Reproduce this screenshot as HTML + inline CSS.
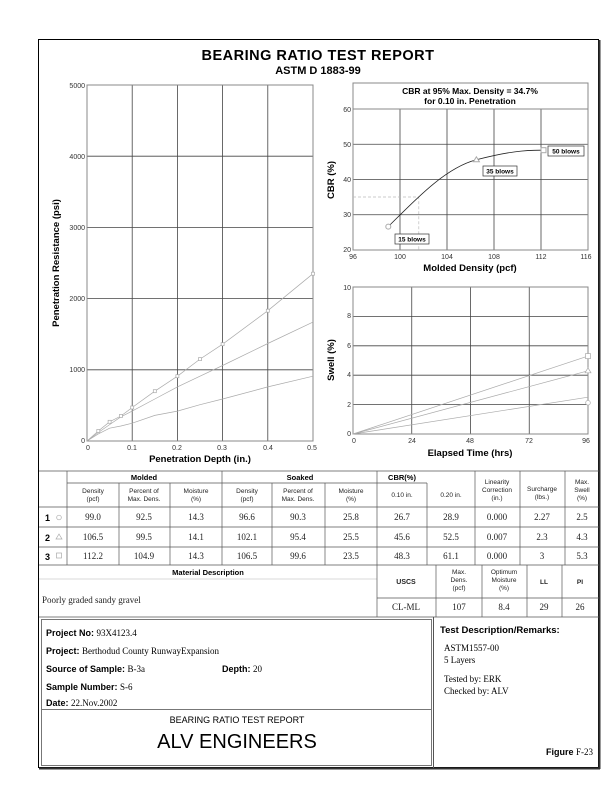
<!DOCTYPE html>
<html><head><meta charset="utf-8"><style>
body{margin:0;background:#fff;width:612px;height:792px;position:relative;overflow:hidden;font-family:"Liberation Sans",sans-serif;}
</style></head><body>
<svg width="612" height="792" style="position:absolute;left:0;top:0" font-family="Liberation Sans, sans-serif">
<rect x="38.5" y="39.5" width="560" height="728" fill="none" stroke="#000" stroke-width="1"/>
<line x1="599.5" y1="40" x2="599.5" y2="769" stroke="#333" stroke-width="2"/>
<line x1="39" y1="768.5" x2="600" y2="768.5" stroke="#333" stroke-width="2"/>
<text x="318" y="60" text-anchor="middle" font-size="14.5" font-weight="bold" letter-spacing="0.5">BEARING RATIO TEST REPORT</text>
<text x="318" y="74" text-anchor="middle" font-size="11" font-weight="bold">ASTM D 1883-99</text>

<g stroke="#444" stroke-width="0.8">
<line x1="132.2" y1="85" x2="132.2" y2="441"/><line x1="177.4" y1="85" x2="177.4" y2="441"/><line x1="222.6" y1="85" x2="222.6" y2="441"/><line x1="267.8" y1="85" x2="267.8" y2="441"/>
<line x1="87" y1="369.8" x2="313" y2="369.8"/><line x1="87" y1="298.6" x2="313" y2="298.6"/><line x1="87" y1="227.4" x2="313" y2="227.4"/><line x1="87" y1="156.2" x2="313" y2="156.2"/>
</g>
<rect x="87" y="85" width="226" height="356" fill="none" stroke="#888" stroke-width="1"/>
<g font-size="7" fill="#333">
<text x="85" y="443" text-anchor="end">0</text><text x="85" y="372" text-anchor="end">1000</text><text x="85" y="301" text-anchor="end">2000</text><text x="85" y="230" text-anchor="end">3000</text><text x="85" y="159" text-anchor="end">4000</text><text x="85" y="88" text-anchor="end">5000</text>
<text x="88" y="450" text-anchor="middle">0</text><text x="132" y="450" text-anchor="middle">0.1</text><text x="177" y="450" text-anchor="middle">0.2</text><text x="222" y="450" text-anchor="middle">0.3</text><text x="268" y="450" text-anchor="middle">0.4</text><text x="312" y="450" text-anchor="middle">0.5</text>
</g>
<text x="200" y="462" text-anchor="middle" font-size="9.5" font-weight="bold">Penetration Depth (in.)</text>
<text transform="translate(59,263) rotate(-90)" text-anchor="middle" font-size="9.5" font-weight="bold">Penetration Resistance (psi)</text>
<g fill="#fff" stroke="#aaa" stroke-width="0.7">
<polyline fill="none" points="87,441 98.3,431 109.6,421.8 120.9,416 132.2,407.5 154.8,391.2 177.4,376.2 200,359.1 222.6,344.2 267.8,310.7 313,273.7"/>
<polyline fill="none" points="87,441 98.3,432.5 109.6,424.6 120.9,416.8 132.2,411.1 154.8,399 177.4,386.9 200,376.2 222.6,365.5 267.8,343.5 313,322.1"/>
<polyline fill="none" points="87,441 98.3,433.9 109.6,428.2 120.9,426 132.2,423.2 154.8,415.4 177.4,411.1 200,404.7 222.6,399 267.8,386.9 313,376.2"/>
<rect x="96.8" y="429.5" width="3" height="3"/><rect x="108.1" y="420.3" width="3" height="3"/><rect x="119.4" y="414.5" width="3" height="3"/><rect x="130.7" y="406" width="3" height="3"/><rect x="153.3" y="389.7" width="3" height="3"/><rect x="175.9" y="374.7" width="3" height="3"/><rect x="198.5" y="357.6" width="3" height="3"/><rect x="221.1" y="342.7" width="3" height="3"/><rect x="266.3" y="309.2" width="3" height="3"/><rect x="311.5" y="272.2" width="3" height="3"/>
</g>

<rect x="353" y="83" width="235" height="26" fill="#fff" stroke="#888"/>
<text x="470" y="94" text-anchor="middle" font-size="8.5" font-weight="bold">CBR at 95%  Max. Density = 34.7%</text>
<text x="470" y="104" text-anchor="middle" font-size="8.5" font-weight="bold">for 0.10 in. Penetration</text>
<g stroke="#444" stroke-width="0.8">
<line x1="400" y1="109" x2="400" y2="250"/><line x1="447" y1="109" x2="447" y2="250"/><line x1="494" y1="109" x2="494" y2="250"/><line x1="541" y1="109" x2="541" y2="250"/>
<line x1="353" y1="214.75" x2="588" y2="214.75"/><line x1="353" y1="179.5" x2="588" y2="179.5"/><line x1="353" y1="144.25" x2="588" y2="144.25"/>
</g>
<rect x="353" y="109" width="235" height="141" fill="none" stroke="#888"/>
<polyline points="353,197 418.8,197 418.8,250" fill="none" stroke="#bbb" stroke-dasharray="3,2" stroke-width="0.7"/>
<path d="M388.3,226.6 C415,200 445,168 476.4,159.8 S525,150 543.4,150.2" fill="none" stroke="#222" stroke-width="0.8"/>
<circle cx="388.3" cy="226.6" r="2.5" fill="#fff" stroke="#aaa"/>
<polygon points="476.4,156.8 473.4,161.8 479.4,161.8" fill="#fff" stroke="#aaa"/>
<rect x="541" y="147.7" width="5" height="5" fill="#fff" stroke="#aaa"/>
<g font-size="6.5" font-weight="bold">
<rect x="548" y="146" width="36" height="10" fill="#fff" stroke="#333" stroke-width="0.7"/><text x="566" y="153.5" text-anchor="middle">50 blows</text>
<rect x="483" y="166" width="34" height="10" fill="#fff" stroke="#333" stroke-width="0.7"/><text x="500" y="173.5" text-anchor="middle">35 blows</text>
<rect x="395" y="234" width="34" height="10" fill="#fff" stroke="#333" stroke-width="0.7"/><text x="412" y="241.5" text-anchor="middle">15 blows</text>
</g>
<g font-size="7" fill="#333">
<text x="351" y="252" text-anchor="end">20</text><text x="351" y="217" text-anchor="end">30</text><text x="351" y="182" text-anchor="end">40</text><text x="351" y="147" text-anchor="end">50</text><text x="351" y="112" text-anchor="end">60</text>
<text x="353" y="259" text-anchor="middle">96</text><text x="400" y="259" text-anchor="middle">100</text><text x="447" y="259" text-anchor="middle">104</text><text x="494" y="259" text-anchor="middle">108</text><text x="541" y="259" text-anchor="middle">112</text><text x="586" y="259" text-anchor="middle">116</text>
</g>
<text x="470" y="271" text-anchor="middle" font-size="9.5" font-weight="bold">Molded Density (pcf)</text>
<text transform="translate(334,180) rotate(-90)" text-anchor="middle" font-size="9.5" font-weight="bold">CBR (%)</text>

<g stroke="#444" stroke-width="0.8">
<line x1="411.75" y1="287" x2="411.75" y2="434"/><line x1="470.5" y1="287" x2="470.5" y2="434"/><line x1="529.25" y1="287" x2="529.25" y2="434"/>
<line x1="353" y1="404.6" x2="588" y2="404.6"/><line x1="353" y1="375.2" x2="588" y2="375.2"/><line x1="353" y1="345.8" x2="588" y2="345.8"/><line x1="353" y1="316.4" x2="588" y2="316.4"/>
</g>
<rect x="353" y="287" width="235" height="147" fill="none" stroke="#888"/>
<g stroke="#aaa" stroke-width="0.7" fill="#fff">
<line x1="353" y1="434" x2="588" y2="356.1"/><line x1="353" y1="434" x2="588" y2="370.8"/><line x1="353" y1="434" x2="588" y2="397.2"/>
<rect x="585.5" y="353.6" width="5" height="5"/><polygon points="588,367.8 585,372.8 591,372.8"/><circle cx="588" cy="402.7" r="2.3"/>
</g>
<g font-size="7" fill="#333">
<text x="351" y="436" text-anchor="end">0</text><text x="351" y="407" text-anchor="end">2</text><text x="351" y="377" text-anchor="end">4</text><text x="351" y="348" text-anchor="end">6</text><text x="351" y="318" text-anchor="end">8</text><text x="351" y="290" text-anchor="end">10</text>
<text x="354" y="443" text-anchor="middle">0</text><text x="412" y="443" text-anchor="middle">24</text><text x="470" y="443" text-anchor="middle">48</text><text x="529" y="443" text-anchor="middle">72</text><text x="586" y="443" text-anchor="middle">96</text>
</g>
<text x="470" y="456" text-anchor="middle" font-size="9.5" font-weight="bold">Elapsed Time (hrs)</text>
<text transform="translate(334,360) rotate(-90)" text-anchor="middle" font-size="9.5" font-weight="bold">Swell (%)</text>

<g stroke="#555" stroke-width="0.7" fill="none">
<line x1="39" y1="471" x2="599" y2="471"/>
<line x1="67" y1="483" x2="427" y2="483"/>
<line x1="39" y1="507" x2="599" y2="507"/><line x1="39" y1="527" x2="599" y2="527"/><line x1="39" y1="547" x2="599" y2="547"/><line x1="39" y1="565" x2="599" y2="565"/>
<line x1="39" y1="579" x2="377" y2="579" stroke="#ccc"/><line x1="39" y1="617" x2="599" y2="617"/>
<line x1="67" y1="471" x2="67" y2="565"/><line x1="119" y1="483" x2="119" y2="565"/><line x1="170" y1="483" x2="170" y2="565"/><line x1="222" y1="471" x2="222" y2="565"/><line x1="272" y1="483" x2="272" y2="565"/><line x1="325" y1="483" x2="325" y2="565"/><line x1="377" y1="471" x2="377" y2="617"/><line x1="427" y1="483" x2="427" y2="565"/><line x1="475" y1="471" x2="475" y2="565"/><line x1="520" y1="471" x2="520" y2="565"/><line x1="565" y1="471" x2="565" y2="565"/>
<line x1="436" y1="565" x2="436" y2="617"/><line x1="482" y1="565" x2="482" y2="617"/><line x1="527" y1="565" x2="527" y2="617"/><line x1="562" y1="565" x2="562" y2="617"/>
<line x1="377" y1="598" x2="599" y2="598"/>
</g>
<g font-size="7.5" font-weight="bold" text-anchor="middle">
<text x="144" y="480">Molded</text><text x="300" y="480">Soaked</text><text x="402" y="480">CBR(%)</text>
<text x="208" y="575">Material  Description</text>
</g>
<g font-size="6.5" text-anchor="middle" fill="#222">
<text x="93" y="493">Density</text><text x="93" y="501">(pcf)</text>
<text x="144" y="493">Percent of</text><text x="144" y="501">Max. Dens.</text>
<text x="196" y="493">Moisture</text><text x="196" y="501">(%)</text>
<text x="247" y="493">Density</text><text x="247" y="501">(pcf)</text>
<text x="298" y="493">Percent of</text><text x="298" y="501">Max. Dens.</text>
<text x="351" y="493">Moisture</text><text x="351" y="501">(%)</text>
<text x="402" y="497">0.10 in.</text><text x="451" y="497">0.20 in.</text>
<text x="497" y="484">Linearity</text><text x="497" y="492">Correction</text><text x="497" y="500">(in.)</text>
<text x="542" y="491">Surcharge</text><text x="542" y="499">(lbs.)</text>
<text x="582" y="484">Max.</text><text x="582" y="492">Swell</text><text x="582" y="500">(%)</text>
<text x="406" y="584" font-weight="bold" font-size="7">USCS</text>
<text x="459" y="574">Max.</text><text x="459" y="582">Dens.</text><text x="459" y="590">(pcf)</text>
<text x="504" y="574">Optimum</text><text x="504" y="582">Moisture</text><text x="504" y="590">(%)</text>
<text x="544" y="584" font-weight="bold">LL</text><text x="580" y="584" font-weight="bold">PI</text>
</g>
<g font-size="9" text-anchor="middle" font-family="Liberation Serif, serif" fill="#222">
<text x="93" y="520">99.0</text><text x="144" y="520">92.5</text><text x="196" y="520">14.3</text><text x="247" y="520">96.6</text><text x="298" y="520">90.3</text><text x="351" y="520">25.8</text><text x="402" y="520">26.7</text><text x="451" y="520">28.9</text><text x="497" y="520">0.000</text><text x="542" y="520">2.27</text><text x="582" y="520">2.5</text>
<text x="93" y="540">106.5</text><text x="144" y="540">99.5</text><text x="196" y="540">14.1</text><text x="247" y="540">102.1</text><text x="298" y="540">95.4</text><text x="351" y="540">25.5</text><text x="402" y="540">45.6</text><text x="451" y="540">52.5</text><text x="497" y="540">0.007</text><text x="542" y="540">2.3</text><text x="582" y="540">4.3</text>
<text x="93" y="559">112.2</text><text x="144" y="559">104.9</text><text x="196" y="559">14.3</text><text x="247" y="559">106.5</text><text x="298" y="559">99.6</text><text x="351" y="559">23.5</text><text x="402" y="559">48.3</text><text x="451" y="559">61.1</text><text x="497" y="559">0.000</text><text x="542" y="559">3</text><text x="582" y="559">5.3</text>
<text x="406" y="610">CL-ML</text><text x="459" y="610">107</text><text x="504" y="610">8.4</text><text x="544" y="610">29</text><text x="580" y="610">26</text>
</g>
<text x="42" y="603" font-size="9" font-family="Liberation Serif, serif" fill="#222">Poorly  graded sandy gravel</text>
<g font-size="9" font-weight="bold"><text x="45" y="521">1</text><text x="45" y="541">2</text><text x="45" y="560">3</text></g>
<g fill="#fff" stroke="#aaa" stroke-width="0.7"><circle cx="59" cy="517.5" r="2.3"/><polygon points="59,534 56,539 62,539"/><rect x="56.5" y="553" width="5" height="5"/></g>

<rect x="41.5" y="619.5" width="390" height="146" fill="none" stroke="#777"/>
<line x1="433.5" y1="617" x2="433.5" y2="768" stroke="#555"/>
<line x1="42" y1="709.5" x2="431" y2="709.5" stroke="#777"/>
<g font-size="9">
<text x="46" y="636" font-weight="bold">Project No: <tspan font-weight="normal" font-family="Liberation Serif, serif">93X4123.4</tspan></text>
<text x="46" y="654" font-weight="bold">Project: <tspan font-weight="normal" font-family="Liberation Serif, serif">Berthodud County RunwayExpansion</tspan></text>
<text x="46" y="672" font-weight="bold">Source of Sample: <tspan font-weight="normal" font-family="Liberation Serif, serif">B-3a</tspan></text>
<text x="222" y="672" font-weight="bold">Depth: <tspan font-weight="normal" font-family="Liberation Serif, serif">20</tspan></text>
<text x="46" y="690" font-weight="bold">Sample Number: <tspan font-weight="normal" font-family="Liberation Serif, serif">S-6</tspan></text>
<text x="46" y="706" font-weight="bold">Date: <tspan font-weight="normal" font-family="Liberation Serif, serif">22.Nov.2002</tspan></text>
</g>
<text x="237" y="723" text-anchor="middle" font-size="9">BEARING RATIO TEST REPORT</text>
<text x="237" y="748" text-anchor="middle" font-size="20">ALV ENGINEERS</text>
<text x="440" y="633" font-size="9.5" font-weight="bold">Test Description/Remarks:</text>
<g font-size="9" font-family="Liberation Serif, serif">
<text x="444" y="651">ASTM1557-00</text><text x="444" y="663">5 Layers</text>
<text x="444" y="682">Tested by: ERK</text><text x="444" y="694">Checked by: ALV</text>
</g>
<text x="593" y="755" text-anchor="end" font-size="9" font-weight="bold">Figure <tspan font-weight="normal" font-family="Liberation Serif, serif">F-23</tspan></text>
</svg>
</body></html>
